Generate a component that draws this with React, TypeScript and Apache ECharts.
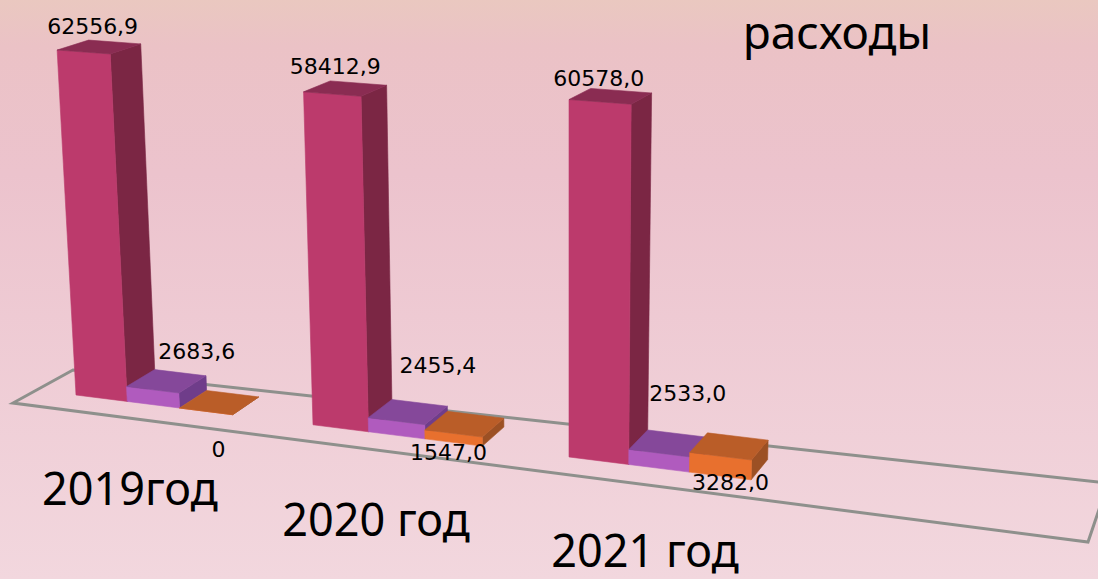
import React, { useEffect, useRef } from "react";
import * as echarts from "echarts";

const categories = ["2019год", "2020 год", "2021 год"];
const title = "расходы";
const seriesA = [62556.9, 58412.9, 60578.0];
const seriesB = [2683.6, 2455.4, 2533.0];
const seriesC = [0, 1547.0, 3282.0];

// layout (not data)
const faceColors = [
  { front: "#BC3A6C", side: "#7B2644", top: "#8A2C52" },
  { front: "#B05BBE", side: "#6F3D8A", top: "#85489A" },
  { front: "#E8702E", side: "#9C5024", top: "#BA5D28" },
];
const labelDX = [[4, 5, 8], [42, 46, 40], [12, 1, 23]];
const labelDY = [[-14, -14, -10], [-18, -34, -37], [59, 41, 50]];
const catDX = [54, 63, 76];
const catDY = [92, 94, 93];
const BAR_STEP = 0.2233;

function formatValue(v: number) {
  return v === 0 ? "0" : v.toFixed(1).replace(".", ",");
}

// perspective projection from axis pixels to the tilted 3D scene
function project(px: number, hPx: number, d: number): number[] {
  const X = 76 + 0.6216 * px + 7.09e-5 * px * px;
  const off = X - 76;
  const baseY = 395 + 0.1257 * off;
  const h = hPx * (1 + off * 0.000142);
  const dx = (29 - 0.0185 * off) * (1 + 0.00025 * h) * d;
  const dy = -(17 + 0.005 * off) * (1 - 0.0012 * h) * d;
  const lean = (X - 569) * 0.000111;
  return [X + h * lean + dx, baseY - h + dy];
}

function makeBarRender(i: number) {
  return (_p: any, api: any) => {
    const k = api.value(0);
    const v = api.value(1);
    const x0 = api.coord([k + i * BAR_STEP, 0])[0];
    const x1 = api.coord([k + (i + 1) * BAR_STEP, 0])[0];
    const h = Math.abs(api.coord([0, 0])[1] - api.coord([0, v])[1]);
    const c = faceColors[i];
    const poly = (pts: number[][], fill: string) => ({
      type: "polygon",
      shape: { points: pts },
      style: { fill, stroke: fill, lineWidth: 0.6 },
    });
    const a = project(x0, 0, 0);
    const b = project(x1, 0, 0);
    const e = project(x1, 0, 1);
    const ta = project(x0, h, 0);
    const tb = project(x1, h, 0);
    const te = project(x1, h, 1);
    const tf = project(x0, h, 1);
    return {
      type: "group",
      children: [
        poly([b, e, te, tb], c.side),
        poly([a, b, tb, ta], c.front),
        poly([ta, tb, te, tf], c.top),
      ],
    };
  };
}

function makeLabelRender(i: number) {
  return (_p: any, api: any) => {
    const k = api.value(0);
    const v = api.value(1);
    const x0 = api.coord([k + i * BAR_STEP, 0])[0];
    const h = Math.abs(api.coord([0, 0])[1] - api.coord([0, v])[1]);
    const p = project(x0, h, 1);
    return {
      type: "text",
      x: p[0] + labelDX[i][k],
      y: p[1] + labelDY[i][k],
      style: {
        text: formatValue(v),
        fontFamily: "DejaVu Sans",
        fontSize: 22,
        fill: "#000",
        align: "center",
        verticalAlign: "middle",
      },
    };
  };
}

function categoryRender(_p: any, api: any) {
  const k = api.value(0);
  const p = project(api.coord([k, 0])[0], 0, 0);
  return {
    type: "text",
    x: p[0] + catDX[k],
    y: p[1] + catDY[k],
    style: {
      text: categories[k],
      fontFamily: "Noto Sans",
      fontSize: 45,
      fill: "#000",
      align: "center",
      verticalAlign: "middle",
    },
  };
}

export default function App() {
  const ref = useRef<HTMLDivElement>(null);
  useEffect(() => {
    const chart = echarts.init(ref.current!, undefined, { renderer: "svg" });
    const allSeries = [seriesA, seriesB, seriesC];
    const rows = (vals: number[]) => vals.map((v, k) => [k, v]);
    chart.setOption({
      animation: false,
      backgroundColor: {
        type: "linear",
        x: 0,
        y: 0,
        x2: 0,
        y2: 1,
        colorStops: [
          { offset: 0, color: "#EAC8C0" },
          { offset: 0.08, color: "#EBC2C6" },
          { offset: 0.3, color: "#ECC3CD" },
          { offset: 1, color: "#F2D7DE" },
        ],
      },
      grid: { left: 0, top: 0, width: 1098, height: 579 },
      xAxis: { type: "value", min: 0, max: 3, show: false },
      yAxis: { type: "value", min: 0, max: 105000, show: false },
      graphic: {
        elements: [
          {
            type: "polygon",
            z: 0,
            shape: { points: [[73, 370], [1108, 483], [1088, 542], [13, 403]] },
            style: { fill: "none", stroke: "#8E908C", lineWidth: 3 },
          },
          {
            type: "text",
            z: 10,
            x: 837,
            y: 31,
            style: {
              text: title,
              fontFamily: "Noto Sans",
              fontSize: 46,
              fill: "#000",
              align: "center",
              verticalAlign: "middle",
            },
          },
        ],
      },
      series: [
        ...allSeries.map((vals, i) => ({
          type: "custom",
          coordinateSystem: "cartesian2d",
          clip: false,
          z: 2,
          data: rows(vals),
          renderItem: makeBarRender(i),
        })),
        ...allSeries.map((vals, i) => ({
          type: "custom",
          coordinateSystem: "cartesian2d",
          clip: false,
          z: 5,
          data: rows(vals),
          renderItem: makeLabelRender(i),
        })),
        {
          type: "custom",
          coordinateSystem: "cartesian2d",
          clip: false,
          z: 5,
          data: categories.map((_c, k) => [k, 0]),
          renderItem: categoryRender,
        },
      ],
    });
    return () => chart.dispose();
  }, []);
  return (
    <div
      ref={ref}
      style={{ position: "fixed", left: 0, top: 0, width: 1098, height: 579 }}
    />
  );
}
